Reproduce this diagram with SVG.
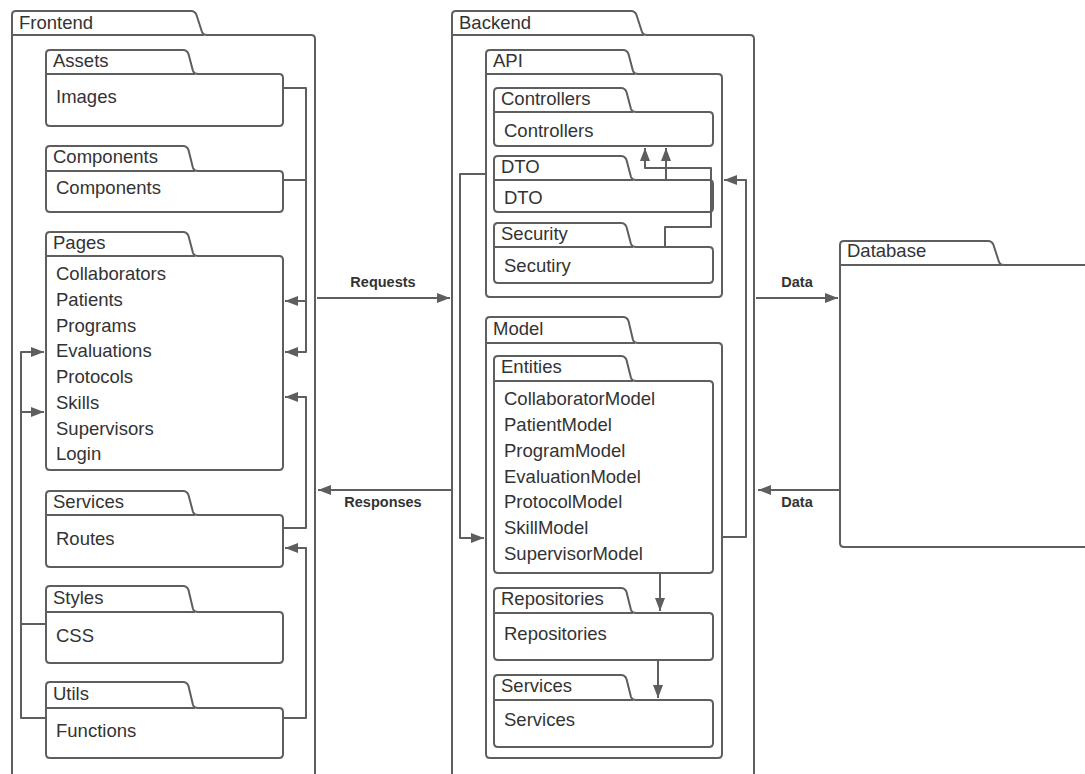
<svg xmlns="http://www.w3.org/2000/svg" width="1085" height="774" viewBox="0 0 1085 774">
<defs>
<marker id="ah" markerUnits="userSpaceOnUse" markerWidth="13" markerHeight="10" refX="13" refY="5" orient="auto"><path d="M0,0 L13,5 L0,10 z" fill="#5e5e5e"/></marker>
<style>
.pk{fill:#fff;stroke:#5e5e5e;stroke-width:2;stroke-linejoin:round}
.t{font-family:"Liberation Sans",Arial,sans-serif;font-size:18.5px;fill:#333}
.b{font-family:"Liberation Sans",Arial,sans-serif;font-size:14.5px;font-weight:bold;fill:#333;text-anchor:middle}
.c{fill:none;stroke:#5e5e5e;stroke-width:2;stroke-linejoin:round}
</style>
</defs>
<rect width="1085" height="774" fill="#fff"/>

<g id="frontend">
<path class="pk" d="M12,35 V15 Q12,11 16,11 H191 Q195,11 196.5,15 L202,32 Q203,35 207,35 H311 Q315,35 315,39 V790 H12 Z"/>
<line x1="12" y1="35" x2="204" y2="35" stroke="#5e5e5e" stroke-width="2"/>
<text class="t" x="19" y="29">Frontend</text>
</g>

<g id="assets">
<path class="pk" d="M46,74 V54 Q46,50 50,50 H183 Q187,50 188.5,54 L193,71 Q194,74 198,74 H279 Q283,74 283,78 V122 Q283,126 279,126 H50 Q46,126 46,122 Z"/>
<line x1="46" y1="74" x2="195" y2="74" stroke="#5e5e5e" stroke-width="2"/>
<text class="t" x="53" y="67">Assets</text>
<text class="t" x="56" y="103">Images</text>
</g>

<g id="components">
<path class="pk" d="M46,171 V150 Q46,146 50,146 H183 Q187,146 188.5,150 L193,168 Q194,171 198,171 H279 Q283,171 283,175 V208 Q283,212 279,212 H50 Q46,212 46,208 Z"/>
<line x1="46" y1="171" x2="195" y2="171" stroke="#5e5e5e" stroke-width="2"/>
<text class="t" x="53" y="163">Components</text>
<text class="t" x="56" y="194">Components</text>
</g>

<g id="pages">
<path class="pk" d="M46,256 V236 Q46,232 50,232 H183 Q187,232 188.5,236 L193,253 Q194,256 198,256 H279 Q283,256 283,260 V466 Q283,470 279,470 H50 Q46,470 46,466 Z"/>
<line x1="46" y1="256" x2="195" y2="256" stroke="#5e5e5e" stroke-width="2"/>
<text class="t" x="53" y="249">Pages</text>
<text class="t" x="56" y="280">Collaborators</text>
<text class="t" x="56" y="306">Patients</text>
<text class="t" x="56" y="332">Programs</text>
<text class="t" x="56" y="357">Evaluations</text>
<text class="t" x="56" y="383">Protocols</text>
<text class="t" x="56" y="409">Skills</text>
<text class="t" x="56" y="435">Supervisors</text>
<text class="t" x="56" y="460">Login</text>
</g>

<g id="f-services">
<path class="pk" d="M46,515 V495 Q46,491 50,491 H183 Q187,491 188.5,495 L193,512 Q194,515 198,515 H279 Q283,515 283,519 V563 Q283,567 279,567 H50 Q46,567 46,563 Z"/>
<line x1="46" y1="515" x2="195" y2="515" stroke="#5e5e5e" stroke-width="2"/>
<text class="t" x="53" y="508">Services</text>
<text class="t" x="56" y="545">Routes</text>
</g>

<g id="styles">
<path class="pk" d="M46,612 V590 Q46,586 50,586 H183 Q187,586 188.5,590 L193,609 Q194,612 198,612 H279 Q283,612 283,616 V659 Q283,663 279,663 H50 Q46,663 46,659 Z"/>
<line x1="46" y1="612" x2="195" y2="612" stroke="#5e5e5e" stroke-width="2"/>
<text class="t" x="53" y="604">Styles</text>
<text class="t" x="56" y="642">CSS</text>
</g>

<g id="utils">
<path class="pk" d="M46,708 V686 Q46,682 50,682 H183 Q187,682 188.5,686 L193,705 Q194,708 198,708 H279 Q283,708 283,712 V754 Q283,758 279,758 H50 Q46,758 46,754 Z"/>
<line x1="46" y1="708" x2="195" y2="708" stroke="#5e5e5e" stroke-width="2"/>
<text class="t" x="53" y="700">Utils</text>
<text class="t" x="56" y="737">Functions</text>
</g>

<g id="backend">
<path class="pk" d="M452,35 V15 Q452,11 456,11 H631 Q635,11 636.5,15 L642,32 Q643,35 647,35 H750 Q754,35 754,39 V790 H452 Z"/>
<line x1="452" y1="35" x2="644" y2="35" stroke="#5e5e5e" stroke-width="2"/>
<text class="t" x="459" y="29">Backend</text>
</g>

<g id="api">
<path class="pk" d="M486,74 V54 Q486,50 490,50 H623 Q627,50 628.5,54 L633,71 Q634,74 638,74 H718 Q722,74 722,78 V293 Q722,297 718,297 H490 Q486,297 486,293 Z"/>
<line x1="486" y1="74" x2="635" y2="74" stroke="#5e5e5e" stroke-width="2"/>
<text class="t" x="493" y="67">API</text>
</g>

<g id="controllers">
<path class="pk" d="M494,112 V92 Q494,88 498,88 H621 Q625,88 626.5,92 L631,109 Q632,112 636,112 H709 Q713,112 713,116 V142 Q713,146 709,146 H498 Q494,146 494,142 Z"/>
<line x1="494" y1="112" x2="633" y2="112" stroke="#5e5e5e" stroke-width="2"/>
<text class="t" x="501" y="105">Controllers</text>
<text class="t" x="504" y="137">Controllers</text>
</g>

<g id="dto">
<path class="pk" d="M494,180 V160 Q494,156 498,156 H621 Q625,156 626.5,160 L631,177 Q632,180 636,180 H709 Q713,180 713,184 V208 Q713,212 709,212 H498 Q494,212 494,208 Z"/>
<line x1="494" y1="180" x2="633" y2="180" stroke="#5e5e5e" stroke-width="2"/>
<text class="t" x="501" y="173">DTO</text>
<text class="t" x="504" y="204">DTO</text>
</g>

<g id="security">
<path class="pk" d="M494,247 V227 Q494,223 498,223 H621 Q625,223 626.5,227 L631,244 Q632,247 636,247 H709 Q713,247 713,251 V279 Q713,283 709,283 H498 Q494,283 494,279 Z"/>
<line x1="494" y1="247" x2="633" y2="247" stroke="#5e5e5e" stroke-width="2"/>
<text class="t" x="501" y="240">Security</text>
<text class="t" x="504" y="272">Secutiry</text>
</g>

<g id="model">
<path class="pk" d="M486,343 V321 Q486,317 490,317 H623 Q627,317 628.5,321 L633,340 Q634,343 638,343 H718 Q722,343 722,347 V754 Q722,758 718,758 H490 Q486,758 486,754 Z"/>
<line x1="486" y1="343" x2="635" y2="343" stroke="#5e5e5e" stroke-width="2"/>
<text class="t" x="493" y="335">Model</text>
</g>

<g id="entities">
<path class="pk" d="M494,381 V360 Q494,356 498,356 H621 Q625,356 626.5,360 L631,378 Q632,381 636,381 H709 Q713,381 713,385 V569 Q713,573 709,573 H498 Q494,573 494,569 Z"/>
<line x1="494" y1="381" x2="633" y2="381" stroke="#5e5e5e" stroke-width="2"/>
<text class="t" x="501" y="373">Entities</text>
<text class="t" x="504" y="405">CollaboratorModel</text>
<text class="t" x="504" y="431">PatientModel</text>
<text class="t" x="504" y="457">ProgramModel</text>
<text class="t" x="504" y="483">EvaluationModel</text>
<text class="t" x="504" y="508">ProtocolModel</text>
<text class="t" x="504" y="534">SkillModel</text>
<text class="t" x="504" y="560">SupervisorModel</text>
</g>

<g id="repositories">
<path class="pk" d="M494,613 V592 Q494,588 498,588 H621 Q625,588 626.5,592 L631,610 Q632,613 636,613 H709 Q713,613 713,617 V656 Q713,660 709,660 H498 Q494,660 494,656 Z"/>
<line x1="494" y1="613" x2="633" y2="613" stroke="#5e5e5e" stroke-width="2"/>
<text class="t" x="501" y="605">Repositories</text>
<text class="t" x="504" y="640">Repositories</text>
</g>

<g id="b-services">
<path class="pk" d="M494,700 V679 Q494,675 498,675 H621 Q625,675 626.5,679 L631,697 Q632,700 636,700 H709 Q713,700 713,704 V743 Q713,747 709,747 H498 Q494,747 494,743 Z"/>
<line x1="494" y1="700" x2="633" y2="700" stroke="#5e5e5e" stroke-width="2"/>
<text class="t" x="501" y="692">Services</text>
<text class="t" x="504" y="726">Services</text>
</g>

<g id="database">
<path class="pk" d="M840,265 V245 Q840,241 844,241 H988 Q992,241 993.5,245 L999,262 Q1000,265 1004,265 H1095 V547 H844 Q840,547 840,543 Z"/>
<line x1="840" y1="265" x2="1002" y2="265" stroke="#5e5e5e" stroke-width="2"/>
<text class="t" x="847" y="257">Database</text>
</g>

<g id="connectors">
<path class="c" d="M283,88 H306 V301 H285" marker-end="url(#ah)"/>
<path class="c" d="M283,180 H306 V352 H285" marker-end="url(#ah)"/>
<path class="c" d="M283,528 H306 V397 H285" marker-end="url(#ah)"/>
<path class="c" d="M283,718 H306 V548 H285" marker-end="url(#ah)"/>
<path class="c" d="M46,624 H21 V412 H44" marker-end="url(#ah)"/>
<path class="c" d="M46,718 H21 V352 H44" marker-end="url(#ah)"/>
<path class="c" d="M666,180 V148" marker-end="url(#ah)"/>
<path class="c" d="M665,247 V227 H711 V168 H645 V148" marker-end="url(#ah)"/>
<path class="c" d="M486,174 H460 V538 H484" marker-end="url(#ah)"/>
<path class="c" d="M722,537 H746 V180 H724" marker-end="url(#ah)"/>
<path class="c" d="M660,573 V611" marker-end="url(#ah)"/>
<path class="c" d="M658,660 V698" marker-end="url(#ah)"/>
<path class="c" d="M317,298 H450" marker-end="url(#ah)"/>
<path class="c" d="M452,490 H318" marker-end="url(#ah)"/>
<path class="c" d="M756,298 H838" marker-end="url(#ah)"/>
<path class="c" d="M840,490 H758" marker-end="url(#ah)"/>
<text class="b" x="383" y="287">Requests</text>
<text class="b" x="383" y="507">Responses</text>
<text class="b" x="797" y="287">Data</text>
<text class="b" x="797" y="507">Data</text>
</g>
</svg>
